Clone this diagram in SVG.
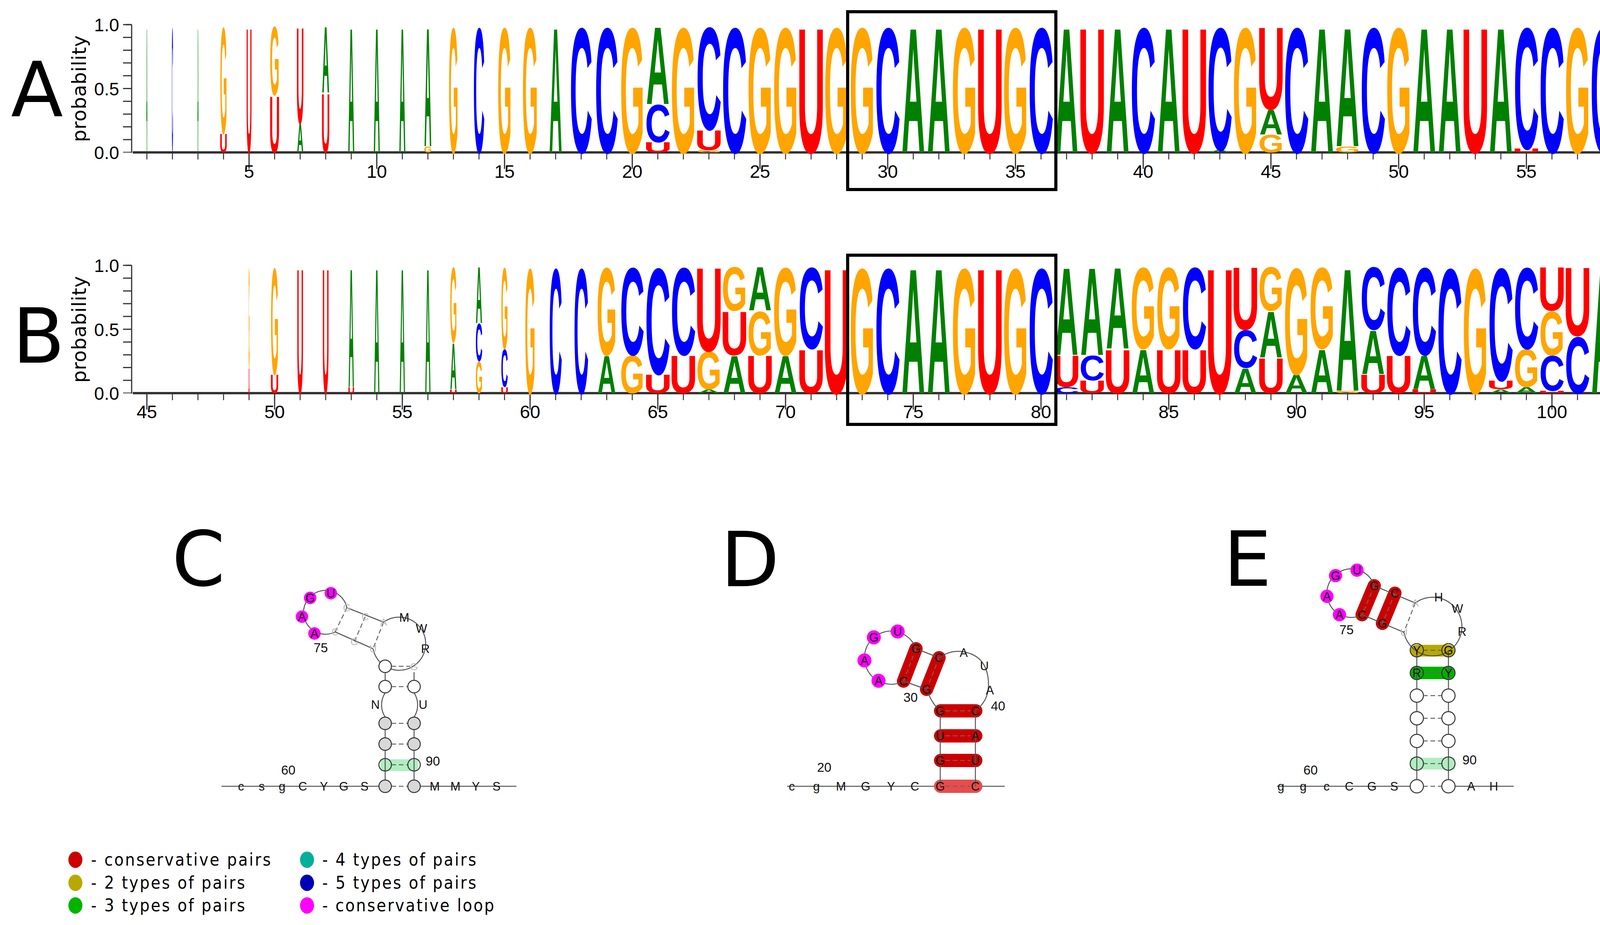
<svg xmlns="http://www.w3.org/2000/svg" width="4298" height="2367" viewBox="0 0 4298 2367">
<style>
.L{font-family:"Liberation Sans",Arial,sans-serif;font-weight:bold;font-size:100px;text-anchor:middle}
.A{fill:#008000}.C{fill:#0000ff}.G{fill:#ffa500}.U{fill:#ff0000}
.lab{font-family:"DejaVu Sans",sans-serif;font-size:195px;fill:#000}
.tk{font-family:"Liberation Sans",Arial,sans-serif;font-size:47px;fill:#000;text-anchor:middle}
.yt{font-family:"Liberation Sans",Arial,sans-serif;font-size:46px;fill:#000;text-anchor:end}
.prob{font-family:"DejaVu Sans",sans-serif;font-size:50px;fill:#000;text-anchor:middle}
.box{fill:none;stroke:#000;stroke-width:8}
.ax{stroke:#333;fill:none}
.s{font-family:"Liberation Sans",Arial,sans-serif;font-size:31px;fill:#111;text-anchor:middle}
.n{font-family:"Liberation Sans",Arial,sans-serif;font-size:33px;fill:#111;text-anchor:middle}
.gr{font-family:"Liberation Sans",Arial,sans-serif;font-size:26px;fill:#bbb;text-anchor:middle}
.ln{fill:none;stroke:#555;stroke-width:2.5}
.ds{fill:none;stroke:#666;stroke-width:2.5;stroke-dasharray:12 7}
.cg{fill:#d8d8d8;stroke:#333;stroke-width:2.5}
.cw{fill:#fff;stroke:#333;stroke-width:2.5}
.ct{fill:none;stroke:#333;stroke-width:2.5}
.pk{fill:#ff00ff}
.rb{stroke:#cc0000;stroke-width:34;stroke-linecap:round;fill:none}
.leg{font-family:"DejaVu Sans Condensed","DejaVu Sans",sans-serif;font-size:44px;fill:#000}
</style>
<rect width="4298" height="2367" fill="#fff"/>

<g id="panelA">
<text class="lab" x="28" y="297">A</text>
<text class="prob" transform="translate(220 227) rotate(-90)" textLength="273">probability</text>
<text class="yt" x="305" y="80">1.0</text><text class="yt" x="305" y="244">0.5</text><text class="yt" x="305" y="407">0.0</text>
<line class="ax" x1="337" y1="63" x2="337" y2="391" stroke-width="3"/>
<line class="ax" x1="326" y1="63" x2="326" y2="392" stroke-width="22" stroke-dasharray="3 29.7" transform="translate(0 -1.5)"/>
<line class="ax" x1="322" y1="63" x2="337" y2="63" stroke-width="3"/><line class="ax" x1="322" y1="226.5" x2="337" y2="226.5" stroke-width="3"/>
<line class="ax" x1="340" y1="390" x2="4250" y2="390" stroke-width="6" stroke="#444"/>
<line class="ax" x1="374.75" y1="400" x2="4240" y2="400" stroke-width="16" stroke-dasharray="2.5 62.9"/>
<line class="ax" x1="636.1" y1="412" x2="4240" y2="412" stroke-width="40" stroke-dasharray="3 324"/>
<text class="tk" x="637.6" y="455">5</text><text class="tk" x="964.6" y="455">10</text><text class="tk" x="1291.6" y="455">15</text><text class="tk" x="1618.6" y="455">20</text><text class="tk" x="1945.6" y="455">25</text><text class="tk" x="2272.6" y="455">30</text><text class="tk" x="2599.6" y="455">35</text><text class="tk" x="2926.6" y="455">40</text><text class="tk" x="3253.6" y="455">45</text><text class="tk" x="3580.6" y="455">50</text><text class="tk" x="3907.6" y="455">55</text><text class="tk" x="4234.6" y="455">60</text>
<g>
<text class="L A" transform="matrix(.043 0 0 4.567 376 390)">A</text>
<text class="L C" transform="matrix(.047 0 0 4.567 441.4 390)">C</text>
<text class="L A" transform="matrix(.043 0 0 4.567 506.8 390)">A</text>
<text class="L U" transform="matrix(.276 0 0 .685 572.2 390)">U</text><text class="L G" transform="matrix(.232 0 0 3.882 572.2 341)">G</text>
<text class="L U" transform="matrix(.207 0 0 4.567 637.6 390)">U</text>
<text class="L U" transform="matrix(.379 0 0 2.055 703 390)">U</text><text class="L G" transform="matrix(.319 0 0 2.512 703 243)">G</text>
<text class="L A" transform="matrix(.229 0 0 1.05 768.4 390)">A</text><text class="L U" transform="matrix(.276 0 0 3.517 768.4 315)">U</text>
<text class="L U" transform="matrix(.31 0 0 2.146 833.8 390)">U</text><text class="L A" transform="matrix(.257 0 0 2.42 833.8 236)">A</text>
<text class="L A" transform="matrix(.229 0 0 4.567 899.2 390)">A</text>
<text class="L A" transform="matrix(.229 0 0 4.567 964.6 390)">A</text>
<text class="L A" transform="matrix(.229 0 0 4.567 1030 390)">A</text>
<text class="L G" transform="matrix(.261 0 0 .228 1095.4 390)">G</text><text class="L A" transform="matrix(.257 0 0 4.339 1095.4 374)">A</text>
<text class="L G" transform="matrix(.319 0 0 4.567 1160.8 390)">G</text>
<text class="L C" transform="matrix(.406 0 0 4.567 1226.2 390)">C</text>
<text class="L G" transform="matrix(.464 0 0 4.567 1291.6 390)">G</text>
<text class="L G" transform="matrix(.522 0 0 4.567 1357 390)">G</text>
<text class="L A" transform="matrix(.457 0 0 4.567 1422.4 390)">A</text>
<text class="L C" transform="matrix(.8125 0 0 4.567 1487.8 390)">C</text>
<text class="L C" transform="matrix(.844 0 0 4.567 1553.2 390)">C</text>
<text class="L G" transform="matrix(.812 0 0 4.567 1618.6 390)">G</text>
<text class="L U" transform="matrix(1 0 0 .365 1684 390)">U</text><text class="L C" transform="matrix(.906 0 0 1.37 1684 364)">C</text><text class="L A" transform="matrix(.829 0 0 2.832 1684 266)">A</text>
<text class="L G" transform="matrix(.841 0 0 4.567 1749.4 390)">G</text>
<text class="L G" transform="matrix(.841 0 0 .091 1814.8 390)">G</text><text class="L U" transform="matrix(1 0 0 .731 1814.8 383.5)">U</text><text class="L C" transform="matrix(.906 0 0 3.745 1814.8 331)">C</text>
<text class="L C" transform="matrix(.906 0 0 4.567 1880.2 390)">C</text>
<text class="L G" transform="matrix(.841 0 0 4.567 1945.6 390)">G</text>
<text class="L G" transform="matrix(.841 0 0 4.567 2011 390)">G</text>
<text class="L U" transform="matrix(1 0 0 4.567 2076.4 390)">U</text>
<text class="L G" transform="matrix(.841 0 0 4.567 2141.8 390)">G</text>
<text class="L G" transform="matrix(.841 0 0 4.567 2207.2 390)">G</text>
<text class="L C" transform="matrix(.906 0 0 4.567 2272.6 390)">C</text>
<text class="L A" transform="matrix(.829 0 0 4.567 2338 390)">A</text>
<text class="L A" transform="matrix(.829 0 0 4.567 2403.4 390)">A</text>
<text class="L G" transform="matrix(.841 0 0 4.567 2468.8 390)">G</text>
<text class="L U" transform="matrix(1 0 0 4.567 2534.2 390)">U</text>
<text class="L G" transform="matrix(.841 0 0 4.567 2599.6 390)">G</text>
<text class="L C" transform="matrix(.906 0 0 4.567 2665 390)">C</text>
<text class="L A" transform="matrix(.829 0 0 4.567 2730.4 390)">A</text>
<text class="L U" transform="matrix(1 0 0 4.567 2795.8 390)">U</text>
<text class="L A" transform="matrix(.829 0 0 4.567 2861.2 390)">A</text>
<text class="L C" transform="matrix(.906 0 0 4.567 2926.6 390)">C</text>
<text class="L A" transform="matrix(.829 0 0 4.567 2992 390)">A</text>
<text class="L U" transform="matrix(1 0 0 4.567 3057.4 390)">U</text>
<text class="L A" transform="matrix(.829 0 0 .091 3122.8 390)">A</text><text class="L C" transform="matrix(.906 0 0 4.476 3122.8 383.5)">C</text>
<text class="L G" transform="matrix(.841 0 0 4.567 3188.2 390)">G</text>
<text class="L G" transform="matrix(.841 0 0 .639 3253.6 390)">G</text><text class="L A" transform="matrix(.829 0 0 .913 3253.6 344)">A</text><text class="L U" transform="matrix(1 0 0 3.014 3253.6 279)">U</text>
<text class="L C" transform="matrix(.906 0 0 4.567 3319 390)">C</text>
<text class="L A" transform="matrix(.829 0 0 4.567 3384.4 390)">A</text>
<text class="L G" transform="matrix(.841 0 0 .228 3449.8 390)">G</text><text class="L A" transform="matrix(.829 0 0 4.339 3449.8 374)">A</text>
<text class="L C" transform="matrix(.906 0 0 4.567 3515.2 390)">C</text>
<text class="L G" transform="matrix(.841 0 0 4.567 3580.6 390)">G</text>
<text class="L A" transform="matrix(.829 0 0 4.567 3646 390)">A</text>
<text class="L A" transform="matrix(.829 0 0 4.567 3711.4 390)">A</text>
<text class="L U" transform="matrix(1 0 0 4.567 3776.8 390)">U</text>
<text class="L A" transform="matrix(.829 0 0 4.567 3842.2 390)">A</text>
<text class="L U" transform="matrix(1 0 0 .137 3907.6 390)">U</text><text class="L C" transform="matrix(.906 0 0 4.43 3907.6 380)">C</text>
<text class="L C" transform="matrix(.906 0 0 4.567 3973 390)">C</text>
<text class="L G" transform="matrix(.841 0 0 4.567 4038.4 390)">G</text>
<text class="L C" transform="matrix(.906 0 0 4.567 4103.8 390)">C</text>
<text class="L U" transform="matrix(1 0 0 4.567 4169.2 390)">U</text>
<text class="L G" transform="matrix(.841 0 0 4.567 4234.6 390)">G</text>
</g>
<rect class="box" x="2170" y="30" width="533" height="455"/>
</g>

<g id="panelB">
<text class="lab" x="32" y="928">B</text>
<text class="prob" transform="translate(220 843) rotate(-90)" textLength="273">probability</text>
<text class="yt" x="305" y="696">1.0</text><text class="yt" x="305" y="860">0.5</text><text class="yt" x="305" y="1023">0.0</text>
<line class="ax" x1="337" y1="679" x2="337" y2="1007" stroke-width="3"/>
<line class="ax" x1="326" y1="679" x2="326" y2="1008" stroke-width="22" stroke-dasharray="3 29.7" transform="translate(0 -1.5)"/>
<line class="ax" x1="322" y1="679" x2="337" y2="679" stroke-width="3"/><line class="ax" x1="322" y1="842.5" x2="337" y2="842.5" stroke-width="3"/>
<line class="ax" x1="340" y1="1006" x2="4250" y2="1006" stroke-width="6" stroke="#444"/>
<line class="ax" x1="374.75" y1="1016" x2="4240" y2="1016" stroke-width="16" stroke-dasharray="2.5 62.9"/>
<line class="ax" x1="374.5" y1="1028" x2="4240" y2="1028" stroke-width="40" stroke-dasharray="3 324"/>
<text class="tk" x="376" y="1070">45</text><text class="tk" x="703" y="1070">50</text><text class="tk" x="1030" y="1070">55</text><text class="tk" x="1357" y="1070">60</text><text class="tk" x="1684" y="1070">65</text><text class="tk" x="2011" y="1070">70</text><text class="tk" x="2338" y="1070">75</text><text class="tk" x="2665" y="1070">80</text><text class="tk" x="2992" y="1070">85</text><text class="tk" x="3319" y="1070">90</text><text class="tk" x="3646" y="1070">95</text><text class="tk" x="3973" y="1070">100</text>
<g>
<text class="L U" transform="matrix(.05 0 0 .913 637.6 1006)">U</text><text class="L G" transform="matrix(.04 0 0 3.654 637.6 941)">G</text>
<text class="L U" transform="matrix(.31 0 0 .685 703 1006)">U</text><text class="L G" transform="matrix(.261 0 0 3.882 703 957)">G</text>
<text class="L U" transform="matrix(.241 0 0 4.567 768.4 1006)">U</text>
<text class="L U" transform="matrix(.241 0 0 4.567 833.8 1006)">U</text>
<text class="L U" transform="matrix(.241 0 0 .228 899.2 1006)">U</text><text class="L A" transform="matrix(.2 0 0 4.339 899.2 990)">A</text>
<text class="L A" transform="matrix(.2 0 0 4.567 964.6 1006)">A</text>
<text class="L A" transform="matrix(.2 0 0 4.567 1030 1006)">A</text>
<text class="L A" transform="matrix(.2 0 0 4.567 1095.4 1006)">A</text>
<text class="L U" transform="matrix(.276 0 0 .137 1160.8 1006)">U</text><text class="L A" transform="matrix(.229 0 0 1.69 1160.8 996)">A</text><text class="L G" transform="matrix(.232 0 0 2.74 1160.8 875)">G</text>
<text class="L G" transform="matrix(.232 0 0 1.142 1226.2 1006)">G</text><text class="L C" transform="matrix(.25 0 0 1.37 1226.2 924)">C</text><text class="L A" transform="matrix(.229 0 0 2.055 1226.2 826)">A</text>
<text class="L U" transform="matrix(.276 0 0 .228 1291.6 1006)">U</text><text class="L C" transform="matrix(.25 0 0 1.37 1291.6 990)">C</text><text class="L G" transform="matrix(.232 0 0 2.969 1291.6 892)">G</text>
<text class="L G" transform="matrix(.348 0 0 4.567 1357 1006)">G</text>
<text class="L C" transform="matrix(.469 0 0 4.567 1422.4 1006)">C</text>
<text class="L C" transform="matrix(.531 0 0 4.567 1487.8 1006)">C</text>
<text class="L A" transform="matrix(.657 0 0 1.37 1553.2 1006)">A</text><text class="L G" transform="matrix(.667 0 0 3.197 1553.2 908)">G</text>
<text class="L G" transform="matrix(.812 0 0 1.37 1618.6 1006)">G</text><text class="L C" transform="matrix(.875 0 0 3.197 1618.6 908)">C</text>
<text class="L U" transform="matrix(1 0 0 .685 1684 1006)">U</text><text class="L C" transform="matrix(.906 0 0 3.882 1684 957)">C</text>
<text class="L U" transform="matrix(1 0 0 1.37 1749.4 1006)">U</text><text class="L C" transform="matrix(.906 0 0 3.197 1749.4 908)">C</text>
<text class="L A" transform="matrix(.829 0 0 .137 1814.8 1006)">A</text><text class="L G" transform="matrix(.841 0 0 1.37 1814.8 996)">G</text><text class="L U" transform="matrix(1 0 0 3.06 1814.8 898)">U</text>
<text class="L A" transform="matrix(.829 0 0 1.37 1880.2 1006)">A</text><text class="L U" transform="matrix(1 0 0 1.598 1880.2 908)">U</text><text class="L G" transform="matrix(.841 0 0 1.598 1880.2 794)">G</text>
<text class="L U" transform="matrix(1 0 0 1.37 1945.6 1006)">U</text><text class="L G" transform="matrix(.841 0 0 1.598 1945.6 908)">G</text><text class="L A" transform="matrix(.829 0 0 1.598 1945.6 794)">A</text>
<text class="L A" transform="matrix(.829 0 0 1.37 2011 1006)">A</text><text class="L G" transform="matrix(.841 0 0 3.197 2011 908)">G</text>
<text class="L U" transform="matrix(1 0 0 1.598 2076.4 1006)">U</text><text class="L C" transform="matrix(.906 0 0 2.969 2076.4 891.5)">C</text>
<text class="L U" transform="matrix(1 0 0 4.567 2141.8 1006)">U</text>
<text class="L G" transform="matrix(.841 0 0 4.567 2207.2 1006)">G</text>
<text class="L C" transform="matrix(.906 0 0 4.567 2272.6 1006)">C</text>
<text class="L A" transform="matrix(.829 0 0 4.567 2338 1006)">A</text>
<text class="L A" transform="matrix(.829 0 0 4.567 2403.4 1006)">A</text>
<text class="L G" transform="matrix(.841 0 0 4.567 2468.8 1006)">G</text>
<text class="L U" transform="matrix(1 0 0 4.567 2534.2 1006)">U</text>
<text class="L G" transform="matrix(.841 0 0 4.567 2599.6 1006)">G</text>
<text class="L C" transform="matrix(.906 0 0 4.567 2665 1006)">C</text>
<text class="L C" transform="matrix(.906 0 0 .228 2730.4 1006)">C</text><text class="L U" transform="matrix(1 0 0 1.142 2730.4 990)">U</text><text class="L A" transform="matrix(.829 0 0 3.197 2730.4 908)">A</text>
<text class="L U" transform="matrix(1 0 0 .457 2795.8 1006)">U</text><text class="L C" transform="matrix(.906 0 0 .913 2795.8 973)">C</text><text class="L A" transform="matrix(.829 0 0 3.197 2795.8 908)">A</text>
<text class="L U" transform="matrix(1 0 0 1.598 2861.2 1006)">U</text><text class="L A" transform="matrix(.829 0 0 2.969 2861.2 891.5)">A</text>
<text class="L A" transform="matrix(.829 0 0 1.598 2926.6 1006)">A</text><text class="L G" transform="matrix(.841 0 0 2.969 2926.6 891.5)">G</text>
<text class="L U" transform="matrix(1 0 0 1.598 2992 1006)">U</text><text class="L G" transform="matrix(.841 0 0 2.969 2992 891.5)">G</text>
<text class="L U" transform="matrix(1 0 0 1.598 3057.4 1006)">U</text><text class="L C" transform="matrix(.906 0 0 2.969 3057.4 891.5)">C</text>
<text class="L U" transform="matrix(1 0 0 4.567 3122.8 1006)">U</text>
<text class="L A" transform="matrix(.829 0 0 .913 3188.2 1006)">A</text><text class="L C" transform="matrix(.906 0 0 1.37 3188.2 941)">C</text><text class="L U" transform="matrix(1 0 0 2.284 3188.2 843)">U</text>
<text class="L U" transform="matrix(1 0 0 1.279 3253.6 1006)">U</text><text class="L A" transform="matrix(.829 0 0 1.69 3253.6 914.5)">A</text><text class="L G" transform="matrix(.841 0 0 1.598 3253.6 793.5)">G</text>
<text class="L A" transform="matrix(.829 0 0 .685 3319 1006)">A</text><text class="L G" transform="matrix(.841 0 0 3.882 3319 957)">G</text>
<text class="L A" transform="matrix(.829 0 0 1.598 3384.4 1006)">A</text><text class="L G" transform="matrix(.841 0 0 2.969 3384.4 891.5)">G</text>
<text class="L G" transform="matrix(.841 0 0 .091 3449.8 1006)">G</text><text class="L A" transform="matrix(.829 0 0 4.476 3449.8 999.5)">A</text>
<text class="L U" transform="matrix(1 0 0 .685 3515.2 1006)">U</text><text class="L A" transform="matrix(.829 0 0 1.598 3515.2 957)">A</text><text class="L C" transform="matrix(.906 0 0 2.284 3515.2 842.5)">C</text>
<text class="L U" transform="matrix(1 0 0 1.37 3580.6 1006)">U</text><text class="L C" transform="matrix(.906 0 0 3.197 3580.6 908)">C</text>
<text class="L U" transform="matrix(1 0 0 .137 3646 1006)">U</text><text class="L A" transform="matrix(.829 0 0 1.233 3646 996)">A</text><text class="L C" transform="matrix(.906 0 0 3.197 3646 908)">C</text>
<text class="L C" transform="matrix(.906 0 0 4.567 3711.4 1006)">C</text>
<text class="L G" transform="matrix(.841 0 0 4.567 3776.8 1006)">G</text>
<text class="L A" transform="matrix(.829 0 0 .137 3842.2 1006)">A</text><text class="L U" transform="matrix(1 0 0 .32 3842.2 996)">U</text><text class="L C" transform="matrix(.906 0 0 4.11 3842.2 973)">C</text>
<text class="L A" transform="matrix(.829 0 0 .228 3907.6 1006)">A</text><text class="L G" transform="matrix(.841 0 0 1.37 3907.6 990)">G</text><text class="L C" transform="matrix(.906 0 0 2.969 3907.6 892)">C</text>
<text class="L U" transform="matrix(1 0 0 .091 3973 1006)">U</text><text class="L C" transform="matrix(.906 0 0 1.279 3973 999.5)">C</text><text class="L G" transform="matrix(.841 0 0 1.598 3973 908)">G</text><text class="L U" transform="matrix(1 0 0 1.598 3973 793.5)">U</text>
<text class="L C" transform="matrix(.906 0 0 2.055 4038.4 1006)">C</text><text class="L U" transform="matrix(1 0 0 2.512 4038.4 859)">U</text>
<text class="L A" transform="matrix(.829 0 0 4.567 4103.8 1006)">A</text>
<text class="L G" transform="matrix(.841 0 0 4.567 4169.2 1006)">G</text>
<text class="L A" transform="matrix(.829 0 0 4.567 4234.6 1006)">A</text>
</g>
<rect class="box" x="2170" y="653" width="533" height="433"/>
</g>

<g id="panelC">
<text class="lab" x="440" y="1498">C</text>
<rect x="974" y="1943" width="96" height="30" fill="#b0eec0"/>
<path class="ln" d="M567 2012H970M1076 2012H1322"/>
<path class="ln" d="M888 1555A56 56 0 1 0 858 1617"/>
<path class="ln" d="M888 1555L982 1592M858 1617L955 1660"/>
<path class="ds" d="M888 1555L858 1617M935 1578L907 1642M982 1592L955 1660"/>
<path class="ln" d="M982 1592A68 68 0 1 1 955 1660"/>
<path class="ln" d="M986 1721V1741M1060 1720V1741M986 1773A57 57 0 0 0 986 1835M1060 1773A57 57 0 0 1 1060 1835M986 1867V1996M1060 1867V1996"/>
<path class="ds" d="M1002 1705H1050M1002 1757H1044M1002 1851H1044M1002 1904H1044M1002 1957H1044M1002 2012H1044"/>
<circle class="cw" cx="986" cy="1705" r="16"/>
<circle class="cw" cx="986" cy="1757" r="16"/><circle class="cw" cx="1060" cy="1757" r="16"/>
<circle class="cg" cx="986" cy="1851" r="16"/><circle class="cg" cx="1060" cy="1851" r="16"/>
<circle class="cg" cx="986" cy="1904" r="16"/><circle class="cg" cx="1060" cy="1904" r="16"/>
<circle class="ct" cx="986" cy="1957" r="16"/><circle class="ct" cx="1060" cy="1957" r="16"/>
<circle class="cg" cx="986" cy="2012" r="16"/><circle class="cg" cx="1060" cy="2012" r="16"/>
<text class="gr" x="888" y="1564">G</text><text class="gr" x="935" y="1587">C</text><text class="gr" x="982" y="1601">A</text>
<text class="gr" x="858" y="1626">C</text><text class="gr" x="907" y="1651">G</text><text class="gr" x="955" y="1669">U</text>
<text class="gr" x="1060" y="1715">G</text>
<circle class="pk" cx="794" cy="1530" r="16"/><circle class="pk" cx="847" cy="1518" r="16"/><circle class="pk" cx="773" cy="1578" r="16"/><circle class="pk" cx="805" cy="1621" r="16"/>
<text class="s" x="794" y="1541">G</text><text class="s" x="847" y="1529">U</text><text class="s" x="773" y="1589">A</text><text class="s" x="805" y="1632">A</text>
<text class="s" x="1035" y="1591">M</text><text class="s" x="1079" y="1619">W</text><text class="s" x="1089" y="1671">R</text>
<text class="s" x="961" y="1814">N</text><text class="s" x="1083" y="1814">U</text>
<text class="n" x="821" y="1669">75</text><text class="n" x="738" y="1982">60</text><text class="n" x="1108" y="1959">90</text>
<text class="s" x="617" y="2023">c</text><text class="s" x="670" y="2023">s</text><text class="s" x="722" y="2023">g</text><text class="s" x="775" y="2023">C</text><text class="s" x="829" y="2023">Y</text><text class="s" x="880" y="2023">G</text><text class="s" x="933" y="2023">S</text>
<text class="s" x="1113" y="2023">M</text><text class="s" x="1166" y="2023">M</text><text class="s" x="1218" y="2023">Y</text><text class="s" x="1271" y="2023">S</text>
</g>

<g id="panelD">
<text class="lab" x="1845" y="1500">D</text>
<path class="ln" d="M2015 2012H2572"/>
<line class="rb" x1="2345" y1="1660" x2="2313" y2="1743"/>
<line class="rb" x1="2404" y1="1683" x2="2372" y2="1764"/>
<rect x="2391" y="1802" width="124" height="34" rx="17" fill="#cc0000"/>
<rect x="2391" y="1866" width="124" height="34" rx="17" fill="#cc0000"/>
<rect x="2391" y="1929" width="124" height="34" rx="17" fill="#cc0000"/>
<rect x="2391" y="1995" width="124" height="34" rx="17" fill="#e84c4c"/>
<path class="ln" d="M2345 1660A68 68 0 1 0 2313 1743"/>
<path class="ln" d="M2345 1660L2404 1683M2313 1743L2372 1764"/>
<path class="ds" d="M2345 1660L2313 1743M2404 1683L2372 1764"/>
<path class="ln" d="M2404 1683C2425 1668 2445 1664 2467 1668C2495 1673 2515 1688 2524 1712C2534 1740 2532 1770 2522 1790C2515 1803 2506 1812 2497 1819M2372 1764Q2385 1800 2407 1819M2407 1819V2012M2497 1819V2012"/>
<path class="ds" d="M2420 1819H2484M2420 1883H2484M2420 1946H2484M2420 2012H2484"/>
<circle class="pk" cx="2237" cy="1631" r="18"/><circle class="pk" cx="2298" cy="1616" r="18"/><circle class="pk" cx="2213" cy="1690" r="18"/><circle class="pk" cx="2249" cy="1742" r="18"/>
<text class="s" x="2237" y="1642">G</text><text class="s" x="2298" y="1627">U</text><text class="s" x="2213" y="1701">A</text><text class="s" x="2249" y="1753">A</text>
<text class="s" x="2345" y="1671">G</text><text class="s" x="2404" y="1694">C</text><text class="s" x="2313" y="1754">C</text><text class="s" x="2372" y="1775">G</text>
<text class="s" x="2467" y="1681">A</text><text class="s" x="2520" y="1715">U</text><text class="s" x="2534" y="1777">A</text>
<text class="s" x="2407" y="1830">G</text><text class="s" x="2497" y="1830">C</text>
<text class="s" x="2407" y="1894">U</text><text class="s" x="2497" y="1894">A</text>
<text class="s" x="2407" y="1957">G</text><text class="s" x="2497" y="1957">U</text>
<text class="s" x="2407" y="2023" fill="#555">G</text><text class="s" x="2497" y="2023" fill="#555">C</text>
<text class="n" x="2331" y="1796">30</text><text class="n" x="2555" y="1818">40</text><text class="n" x="2110" y="1975">20</text>
<text class="s" x="2027" y="2023">c</text><text class="s" x="2090" y="2023">g</text><text class="s" x="2153" y="2023">M</text><text class="s" x="2216" y="2023">G</text><text class="s" x="2281" y="2023">Y</text><text class="s" x="2342" y="2023">C</text>
</g>

<g id="panelE">
<text class="lab" x="3132" y="1499">E</text>
<rect x="3611" y="1650" width="113" height="30" rx="15" fill="#b8a800"/>
<rect x="3611" y="1706" width="113" height="32" rx="16" fill="#00b000"/>
<rect x="3611" y="1939" width="113" height="30" fill="#b0eec0"/>
<line class="rb" x1="3518" y1="1499" x2="3487" y2="1573"/>
<line class="rb" x1="3571" y1="1518" x2="3539" y2="1595"/>
<path class="ln" d="M3269 2012H3611M3724 2012H3875"/>
<path class="ln" d="M3518 1499A62 62 0 1 0 3487 1573"/>
<path class="ln" d="M3518 1499L3623 1543M3487 1573L3594 1618"/>
<path class="ds" d="M3518 1499L3487 1573M3571 1518L3539 1595M3623 1543L3594 1618"/>
<path class="ln" d="M3623 1543A75 75 0 1 1 3594 1618"/>
<path class="ln" d="M3627 1664V1996M3708 1664V1996"/>
<path class="ds" d="M3643 1664H3692M3643 1722H3692M3643 1780H3692M3643 1838H3692M3643 1896H3692M3643 1954H3692M3643 2012H3692"/>
<circle class="ct" cx="3627" cy="1664" r="17"/><circle class="ct" cx="3708" cy="1664" r="17"/>
<circle class="ct" cx="3627" cy="1722" r="17"/><circle class="ct" cx="3708" cy="1722" r="17"/>
<circle class="cw" cx="3627" cy="1780" r="17"/><circle class="cw" cx="3708" cy="1780" r="17"/>
<circle class="cw" cx="3627" cy="1838" r="17"/><circle class="cw" cx="3708" cy="1838" r="17"/>
<circle class="cw" cx="3627" cy="1896" r="17"/><circle class="cw" cx="3708" cy="1896" r="17"/>
<circle class="ct" cx="3627" cy="1954" r="17"/><circle class="ct" cx="3708" cy="1954" r="17"/>
<circle class="cw" cx="3627" cy="2012" r="17"/><circle class="cw" cx="3708" cy="2012" r="17"/>
<circle class="pk" cx="3419" cy="1473" r="17"/><circle class="pk" cx="3474" cy="1459" r="17"/><circle class="pk" cx="3397" cy="1526" r="17"/><circle class="pk" cx="3429" cy="1573" r="17"/>
<text class="s" x="3419" y="1484">G</text><text class="s" x="3474" y="1470">U</text><text class="s" x="3397" y="1537">A</text><text class="s" x="3429" y="1584">A</text>
<text class="s" x="3518" y="1510">G</text><text class="s" x="3571" y="1529">C</text><text class="s" x="3487" y="1584">C</text><text class="s" x="3539" y="1606">G</text>
<text class="gr" x="3623" y="1552">A</text><text class="gr" x="3594" y="1627">U</text>
<text class="s" x="3683" y="1539">H</text><text class="s" x="3731" y="1568">W</text><text class="s" x="3743" y="1627">R</text>
<text class="s" x="3627" y="1675">Y</text><text class="s" x="3708" y="1675">G</text>
<text class="s" x="3627" y="1733">R</text><text class="s" x="3708" y="1733">Y</text>
<text class="n" x="3447" y="1623">75</text><text class="n" x="3355" y="1982">60</text><text class="n" x="3762" y="1956">90</text>
<text class="s" x="3279" y="2023">g</text><text class="s" x="3336" y="2023">g</text><text class="s" x="3396" y="2023">c</text><text class="s" x="3454" y="2023">C</text><text class="s" x="3512" y="2023">G</text><text class="s" x="3569" y="2023">S</text><text class="s" x="3766" y="2023">A</text><text class="s" x="3824" y="2023">H</text>
</g>

<g id="legend">
<ellipse cx="193" cy="2200" rx="18" ry="21" fill="#cc0000"/>
<ellipse cx="193" cy="2259" rx="18" ry="21" fill="#b8a800"/>
<ellipse cx="193" cy="2317" rx="18" ry="21" fill="#00b400"/>
<ellipse cx="786" cy="2200" rx="18" ry="21" fill="#00b09a"/>
<ellipse cx="786" cy="2259" rx="18" ry="21" fill="#0000b4"/>
<ellipse cx="786" cy="2317" rx="18" ry="21" fill="#ff00ff"/>
<text class="leg" x="233" y="2215" textLength="460">- conservative pairs</text>
<text class="leg" x="233" y="2274" textLength="394">- 2 types of pairs</text>
<text class="leg" x="233" y="2332" textLength="394">- 3 types of pairs</text>
<text class="leg" x="825" y="2215" textLength="394">- 4 types of pairs</text>
<text class="leg" x="825" y="2274" textLength="394">- 5 types of pairs</text>
<text class="leg" x="825" y="2332" textLength="440">- conservative loop</text>
</g>
</svg>
